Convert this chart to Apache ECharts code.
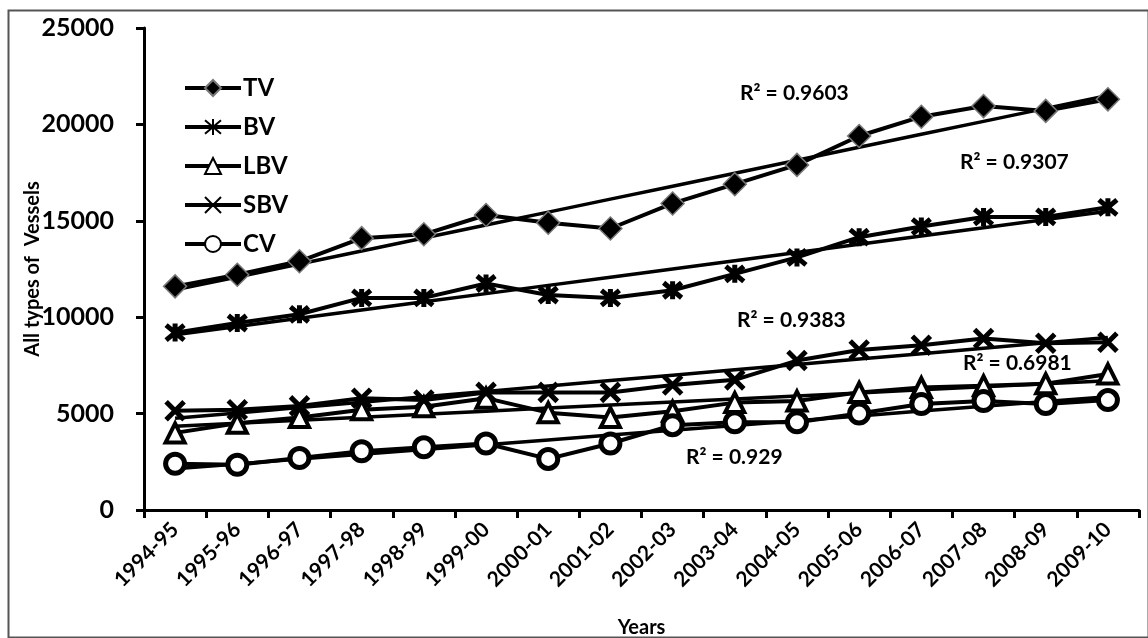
<!DOCTYPE html>
<html>
<head>
<meta charset="utf-8">
<script src="https://cdn.jsdelivr.net/npm/echarts@6/dist/echarts.min.js"></script>
<style>
  html, body { margin: 0; padding: 0; background: #fff; }
  #main { width: 1148px; height: 638px; }
</style>
</head>
<body>
<div id="main"></div>
<script>
// data
var years = ['1994-95', '1995-96', '1996-97', '1997-98', '1998-99', '1999-00', '2000-01', '2001-02',
             '2002-03', '2003-04', '2004-05', '2005-06', '2006-07', '2007-08', '2008-09', '2009-10'];
var tv  = [11600, 12200, 12900, 14100, 14300, 15300, 14900, 14600, 15900, 16900, 17900, 19400, 20400, 20950, 20700, 21300];
var bv  = [9200, 9700, 10150, 11000, 11000, 11750, 11150, 11000, 11400, 12250, 13100, 14150, 14700, 15200, 15200, 15700];
var lbv = [4000, 4500, 4800, 5200, 5350, 5800, 5050, 4800, 5120, 5570, 5650, 6100, 6350, 6450, 6550, 7050];
var sbv = [5150, 5200, 5400, 5800, 5700, 6100, 6100, 6100, 6480, 6750, 7750, 8300, 8550, 8900, 8650, 8700];
var cv  = [2400, 2350, 2700, 3050, 3250, 3450, 2650, 3450, 4400, 4550, 4550, 5000, 5500, 5650, 5500, 5700];
var r2Labels = ['R² = 0.9603', 'R² = 0.9307', 'R² = 0.9383', 'R² = 0.6981', 'R² = 0.929'];

// least squares trend line (like excel's linear trendline)
function trend(vals) {
    var n = vals.length, sx = 0, sy = 0, sxy = 0, sxx = 0;
    for (var i = 0; i < n; i++) { sx += i; sy += vals[i]; sxy += i * vals[i]; sxx += i * i; }
    var b = (n * sxy - sx * sy) / (n * sxx - sx * sx);
    var a = (sy - b * sx) / n;
    return vals.map(function (v, i) { return +(a + b * i).toFixed(1); });
}

var FONT = 'Lato';
var xMark = 'path://M0,0L10,10M10,0L0,10';
var starMark = 'path://M0,0L10,10M10,0L0,10M5,-1L5,11';

function mainSeries(name, data, symbol, size, itemStyle) {
    return {
        name: name, type: 'line', data: data,
        symbol: symbol, symbolSize: size,
        lineStyle: { color: '#000', width: 4 },
        itemStyle: itemStyle,
        z: 3
    };
}
function trendSeries(data) {
    return {
        type: 'line', data: trend(data), symbol: 'none', silent: true,
        lineStyle: { color: '#000', width: 3.5 }, z: 2
    };
}

var myChart = echarts.init(document.getElementById('main'));
var option = {
    backgroundColor: '#fff',
    animation: false,
    grid: { left: 144, right: 9, top: 28, bottom: 128, containLabel: false, outerBoundsMode: 'none' },
    legend: {
        data: ['TV', 'BV', 'LBV', 'SBV', 'CV'],
        orient: 'vertical', left: 178, top: 71,
        itemWidth: 56, itemHeight: 20, itemGap: 15,
        lineStyle: { color: '#000', width: 4 },
        textStyle: { fontFamily: FONT, fontSize: 24, fontWeight: 'bold', color: '#000', padding: [0, 0, 0, -3] }
    },
    xAxis: {
        type: 'category', data: years, boundaryGap: true,
        name: 'Years', nameLocation: 'middle', nameGap: 108, nameMoveOverlap: false,
        nameTextStyle: { fontFamily: FONT, fontSize: 20, fontWeight: 'bold', color: '#000' },
        axisLine: { lineStyle: { color: '#000', width: 3 } },
        axisTick: { show: true, length: 8, lineStyle: { color: '#000', width: 3 } },
        axisLabel: { interval: 0, rotate: 45, margin: 16, fontFamily: FONT, fontSize: 21, fontWeight: 'bold', color: '#000' },
        splitLine: { show: false }
    },
    yAxis: {
        type: 'value', min: 0, max: 25000, interval: 5000,
        name: 'All types of  Vessels', nameLocation: 'middle', nameGap: 101, nameMoveOverlap: false,
        nameTextStyle: { fontFamily: FONT, fontSize: 20, fontWeight: 'bold', color: '#000' },
        axisLine: { show: true, lineStyle: { color: '#000', width: 3 } },
        axisTick: { show: true, length: 8, lineStyle: { color: '#000', width: 3 } },
        axisLabel: {
            margin: 30, fontFamily: FONT, fontSize: 25, fontWeight: 'bold', color: '#000',
            formatter: function (v) { return String(v); }
        },
        splitLine: { show: false }
    },
    series: [
        mainSeries('TV', tv, 'diamond', 23, { color: '#000', borderColor: '#777', borderWidth: 1.5 }),
        mainSeries('BV', bv, starMark, 18, { color: '#000', borderColor: '#000', borderWidth: 5 }),
        mainSeries('LBV', lbv, 'triangle', 19, { color: '#fff', borderColor: '#000', borderWidth: 4 }),
        mainSeries('SBV', sbv, xMark, 18, { color: '#000', borderColor: '#000', borderWidth: 5 }),
        mainSeries('CV', cv, 'circle', 19, { color: '#fff', borderColor: '#000', borderWidth: 5 }),
        trendSeries(tv), trendSeries(bv), trendSeries(lbv), trendSeries(sbv), trendSeries(cv)
    ],
    graphic: [
        { type: 'rect', left: 6, top: 8, z: -1,
          shape: { width: 1140, height: 627 },
          style: { fill: 'none', stroke: '#555', lineWidth: 2 } },
        { type: 'text', left: 740, top: 83, style: { text: r2Labels[0], font: 'bold 21px Lato', fill: '#000' } },
        { type: 'text', left: 960, top: 152, style: { text: r2Labels[1], font: 'bold 21px Lato', fill: '#000' } },
        { type: 'text', left: 737, top: 310, style: { text: r2Labels[2], font: 'bold 21px Lato', fill: '#000' } },
        { type: 'text', left: 963, top: 353, style: { text: r2Labels[3], font: 'bold 21px Lato', fill: '#000' } },
        { type: 'text', left: 686, top: 447, style: { text: r2Labels[4], font: 'bold 21px Lato', fill: '#000' } }
    ]
};
myChart.setOption(option);
</script>
</body>
</html>
